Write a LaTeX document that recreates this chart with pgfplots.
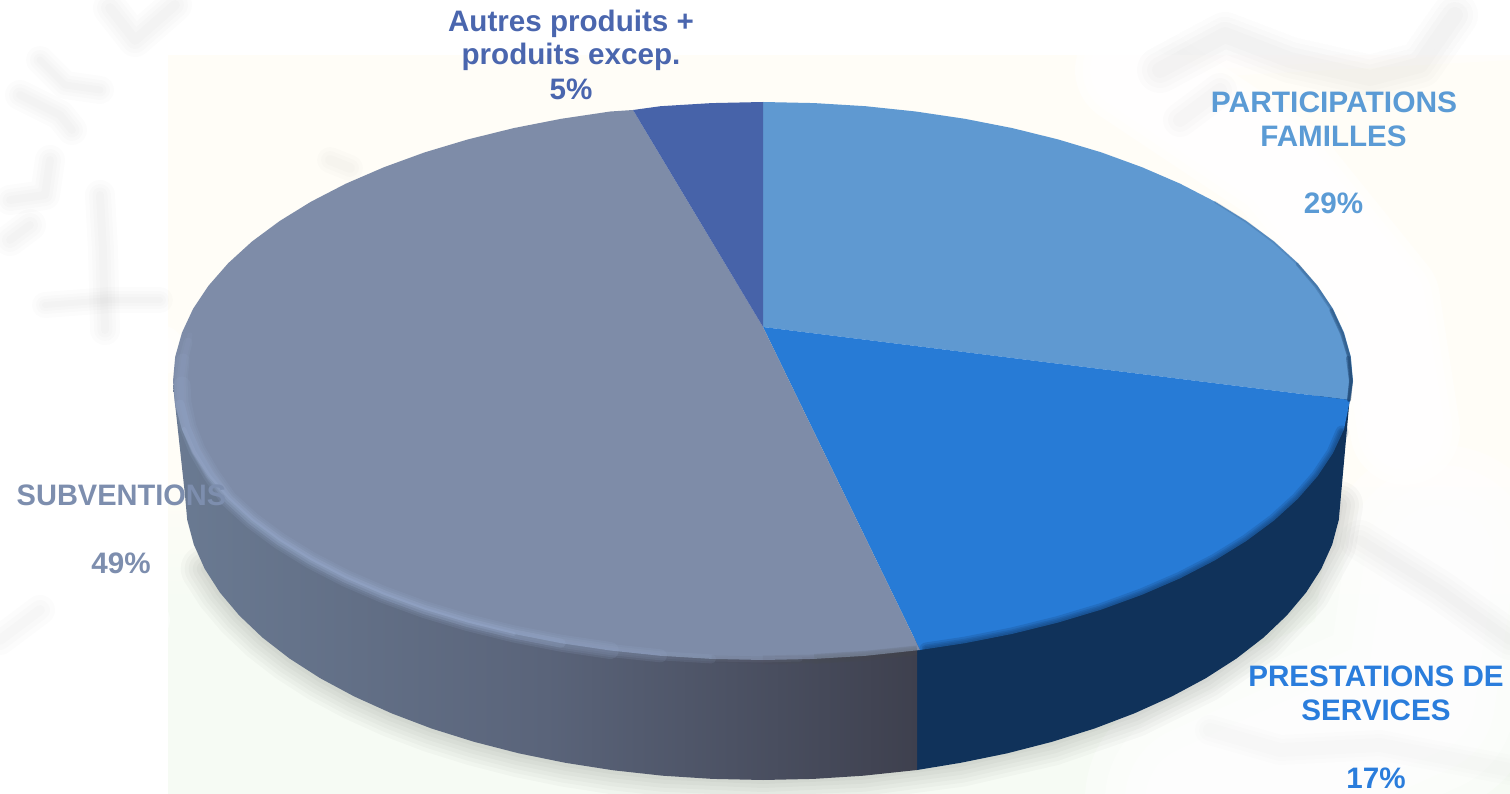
\documentclass[border=0pt]{standalone}
\usepackage{pgfplots}
\pgfplotsset{compat=1.18}
\usepackage{graphicx}
\usepackage{fontspec}
\setmainfont{Liberation Sans}
\definecolor{cA}{HTML}{5F99D1}
\definecolor{cB}{HTML}{277BD6}
\definecolor{cC}{HTML}{7E8CA8}
\definecolor{cD}{HTML}{4763A9}
\definecolor{tA}{HTML}{5B9BD5}
\definecolor{tB}{HTML}{2A7DDC}
\definecolor{tC}{HTML}{7D8EAE}
\definecolor{tD}{HTML}{4A66AE}
\definecolor{wB}{HTML}{10325A}
\definecolor{wL}{HTML}{6A7A92}
\definecolor{wM}{HTML}{5A647A}
\definecolor{wR}{HTML}{3E404E}
\definecolor{rim}{HTML}{9AADCF}
\definecolor{cream}{HTML}{FFFDF7}
\definecolor{pale}{HTML}{F6FBF4}
\tikzset{lab/.style={anchor=base,inner sep=0pt,font=\bfseries\fontsize{29.6}{33}\selectfont}}
% a soft stroke: the same polyline at several widths, each very faint
\newcommand{\soft}[4]{\pgfplotsinvokeforeach{#4}{\addplot[draw=#1,opacity=#2,line width=##1pt,line cap=round,line join=round] coordinates {#3};}}
\begin{document}
\begin{tikzpicture}
\begin{axis}[
  scale only axis,width=1510pt,height=794pt,
  xmin=0,xmax=1510,ymin=0,ymax=794,y dir=reverse,
  hide axis,no markers
]
% background
\addplot[fill=cream,draw=none] coordinates {(168,55)(1510,55)(1510,480)(168,480)} --cycle;
\addplot[draw=none,top color=cream,bottom color=pale] coordinates {(168,480)(1510,480)(1510,600)(168,600)} --cycle;
\addplot[fill=pale,draw=none] coordinates {(168,600)(1510,600)(1510,794)(168,794)} --cycle;
% white halo and lighter lower right
\soft{white}{.5}{(1130,70)(1280,170)(1385,300)(1405,430)}{110,95,80,65}
\soft{white}{.4}{(1150,45)(1510,25)}{70,55,40}
\soft{white}{.4}{(1440,560)(1420,700)(1200,800)}{230,190,150,110}
\soft{white}{.5}{(120,350)(160,350)}{50,30}
\soft{white}{.5}{(120,620)(150,620)}{40,20}
% faint watermark strokes
\soft{black}{.011}{(110,8)(135,40)(175,5)}{34,26,18,10}
\soft{black}{.011}{(20,95)(60,115)(72,130)}{30,22,15,8}
\soft{black}{.011}{(40,60)(65,85)(100,90)}{28,20,13,7}
\soft{black}{.011}{(50,160)(45,195)(10,200)}{30,22,15,8}
\soft{black}{.011}{(100,195)(103,250)(105,330)}{30,22,15,8}
\soft{black}{.011}{(10,240)(30,225)}{32,24,16,8}
\soft{black}{.011}{(45,305)(110,300)(160,300)}{26,18,12,6}
\soft{black}{.011}{(330,160)(350,168)}{26,18,10}
\soft{black}{.011}{(1160,70)(1225,35)(1290,60)(1370,78)(1420,65)(1455,15)}{46,36,26,16}
\soft{black}{.011}{(1180,120)(1220,90)}{34,24,14}
\soft{black}{.011}{(1360,540)(1440,590)(1510,640)}{40,30,20,10}
\soft{black}{.009}{(1210,730)(1280,750)(1380,745)(1510,770)}{30,22,14}
\soft{black}{.011}{(0,640)(40,610)}{30,20,10}
% soft shadow under the wall
\soft{black}{.022}{(204.7,568.8)(219.9,592.5)(239.2,615.4)(262.4,637.5)(289.5,658.5)(320.2,678.2)(354.3,696.5)(391.5,713.3)(431.5,728.5)(474,741.8)(518.7,753.3)(565.3,762.8)(613.4,770.3)(662.6,775.7)(763,780)(863.4,775.7)(960.7,762.8)(1052,741.8)(1134.5,713.3)(1205.8,678.2)(1263.6,637.5)(1306.1,592.5)(1332.2,544.5)(1339,505)}{48,40,32,24,16,8}
% walls
\addplot[fill=wB,draw=none] coordinates {(1350,395)(1341,495)(1338.8,519.8)(1332.2,544.5)(1321.3,568.8)(1306.1,592.5)(1286.8,615.4)(1263.6,637.5)(1236.5,658.5)(1205.8,678.2)(1171.7,696.5)(1134.5,713.3)(1094.5,728.5)(1052,741.8)(1007.3,753.3)(960.7,762.8)(917,770)(917,640)(1100,400)} --cycle;
\addplot[draw=none,left color=wL,right color=wR,middle color=wM] coordinates {(917,770)(863.4,775.7)(813.4,778.9)(763,780)(712.6,778.9)(662.6,775.7)(613.4,770.3)(565.3,762.8)(518.7,753.3)(474,741.8)(431.5,728.5)(391.5,713.3)(354.3,696.5)(320.2,678.2)(289.5,658.5)(262.4,637.5)(239.2,615.4)(219.9,592.5)(204.7,568.8)(193.8,544.5)(187.2,519.8)(185,495)(173,385)(500,400)(917,640)} --cycle;
% top faces
\addplot[fill=cA,draw=none] coordinates {(763,327)(763,102)(814.4,103.1)(865.5,106.2)(915.7,111.5)(964.8,118.8)(1012.3,128.1)(1058,139.4)(1101.4,152.4)(1142.2,167.3)(1180.2,183.7)(1215,201.7)(1246.3,221)(1274,241.5)(1297.7,263.1)(1317.4,285.6)(1332.9,308.8)(1344,332.6)(1350.8,356.7)(1353,381)(1350,400)} --cycle;
\addplot[fill=cB,draw=none] coordinates {(763,327)(1350,400)(1344,429.4)(1332.9,453.2)(1317.4,476.4)(1297.7,498.9)(1274,520.5)(1246.3,541)(1215,560.3)(1180.2,578.3)(1142.2,594.7)(1101.4,609.6)(1058,622.6)(1012.3,633.9)(964.8,643.2)(920,650)} --cycle;
\addplot[fill=cC,draw=none] coordinates {(763,327)(920,650)(865.5,655.8)(814.4,658.9)(763,660)(711.6,658.9)(660.5,655.8)(610.3,650.5)(561.2,643.2)(513.7,633.9)(468,622.6)(424.6,609.6)(383.8,594.7)(345.8,578.3)(311,560.3)(279.7,541)(252,520.5)(228.3,498.9)(208.6,476.4)(193.1,453.2)(182,429.4)(175.2,405.3)(173,381)(175.2,356.7)(182,332.6)(193.1,308.8)(208.6,285.6)(228.3,263.1)(252,241.5)(279.7,221)(311,201.7)(345.8,183.7)(383.8,167.3)(424.6,152.4)(468,139.4)(513.7,128.1)(561.2,118.8)(610.3,111.5)(633,110)} --cycle;
\addplot[fill=cD,draw=none] coordinates {(763,327)(633,110)(660.5,106.2)(711.6,103.1)(763,102)} --cycle;
% rim: blue part, soft edge
\soft{wB}{.17}{(1342,432)(1332.9,453.2)(1317.4,476.4)(1297.7,498.9)(1274,520.5)(1246.3,541)(1215,560.3)(1180.2,578.3)(1142.2,594.7)(1101.4,609.6)(1058,622.6)(1012.3,633.9)(964.8,643.2)(926,649)}{13,9,6,3}
% rim: grey part, dark near the corner (staggered ends fade it out)
\addplot[draw=black!70,opacity=.1,line width=10pt,line join=round] coordinates {(917,650.4)(865.5,655.8)(814.4,658.9)};
\addplot[draw=black!70,opacity=.08,line width=9pt,line join=round] coordinates {(917,650.4)(865.5,655.8)(814.4,658.9)(763,660)};
\addplot[draw=black!70,opacity=.07,line width=7pt,line join=round] coordinates {(917,650.4)(865.5,655.8)(814.4,658.9)(763,660)(711.6,658.9)};
\addplot[draw=black!70,opacity=.06,line width=4pt,line join=round] coordinates {(917,650.4)(865.5,655.8)(814.4,658.9)(763,660)(711.6,658.9)(660.5,655.8)};
% rim: grey part, highlight (staggered ends fade it out)
\addplot[draw=rim,opacity=.09,line width=5pt,line cap=round,line join=round] coordinates {(800,659)(763,660)(711.6,658.9)(660.5,655.8)(610.3,650.5)(561.2,643.2)(513.7,633.9)(468,622.6)(424.6,609.6)(383.8,594.7)(345.8,578.3)(311,560.3)(279.7,541)(252,520.5)(228.3,498.9)(211,474)(197,450)(188,427)(182,403)(181,381)(184,358)(190,335)};
\addplot[draw=rim,opacity=.12,line width=9pt,line cap=round,line join=round] coordinates {(711.6,658.9)(660.5,655.8)(610.3,650.5)(561.2,643.2)(513.7,633.9)(468,622.6)(424.6,609.6)(383.8,594.7)(345.8,578.3)(311,560.3)(279.7,541)(252,520.5)(228.3,498.9)(211,474)(197,450)(188,427)(182,403)(181,381)(184,358)(188,342)};
\addplot[draw=rim,opacity=.13,line width=13pt,line cap=round,line join=round] coordinates {(660.5,655.8)(610.3,650.5)(561.2,643.2)(513.7,633.9)(468,622.6)(424.6,609.6)(383.8,594.7)(345.8,578.3)(311,560.3)(279.7,541)(252,520.5)(228.3,498.9)(211,474)(197,450)(188,427)(182,403)(181,381)(183,360)};
\addplot[draw=rim,opacity=.14,line width=17pt,line cap=round,line join=round] coordinates {(610.3,650.5)(561.2,643.2)(513.7,633.9)(468,622.6)(424.6,609.6)(383.8,594.7)(345.8,578.3)(311,560.3)(279.7,541)(252,520.5)(228.3,498.9)(211,474)(197,450)(188,427)(183,403)(182,385)};
\addplot[draw=rim,opacity=.2,line width=9pt,line cap=round,line join=round] coordinates {(561.2,643.2)(513.7,633.9)(468,622.6)(424.6,609.6)(383.8,594.7)(345.8,578.3)(311,560.3)(279.7,541)(252,520.5)(228.3,498.9)(210,475)(196,451)(186,428)(180,404)};
\addplot[draw=rim,opacity=.25,line width=4pt,line cap=round,line join=round] coordinates {(513.7,633.9)(468,622.6)(424.6,609.6)(383.8,594.7)(345.8,578.3)(311,560.3)(279.7,541)(252,520.5)(228.3,498.9)(209,476)(194,452)(184,429)};
% dark rim at the right (staggered starts fade it in)
\addplot[draw=wB,opacity=.15,line width=2pt,line join=round,line cap=round] coordinates {(1215,202)(1246,221.5)(1273.5,242)(1297,263.5)(1316.5,286)(1332,309)(1343,333)(1349.5,357)(1351.5,381)(1349,400)};
\addplot[draw=wB,opacity=.2,line width=3pt,line join=round,line cap=round] coordinates {(1297,264)(1316,286.5)(1331.5,309.5)(1342.5,333.5)(1349,357)(1351,381)(1349,400)};
\addplot[draw=wB,opacity=.3,line width=3.5pt,line join=round,line cap=round] coordinates {(1331,310)(1342,334)(1349,357)(1351,381)(1349,400)};
\addplot[draw=wB,opacity=.35,line width=4pt,line join=round,line cap=round] coordinates {(1348,358)(1351,381)(1349,400)};
% labels
\node[lab,text=tD] at (axis cs:571,31.5) {Autres produits +};
\node[lab,text=tD] at (axis cs:571,65) {produits excep.};
\node[lab,text=tD] at (axis cs:571,99.5) {5\%};
\node[lab,text=tA] at (axis cs:1334,112.5) {\scalebox{1.012}[1]{PARTICIPATIONS}};
\node[lab,text=tA] at (axis cs:1333.5,146.5) {FAMILLES};
\node[lab,text=tA] at (axis cs:1333.5,213.5) {29\%};
\node[lab,text=tB] at (axis cs:1376,686.5) {PRESTATIONS DE};
\node[lab,text=tB] at (axis cs:1376,720.5) {SERVICES};
\node[lab,text=tB] at (axis cs:1376,788.5) {17\%};
\node[lab,text=tC] at (axis cs:121.5,505.5) {\scalebox{.98}[1]{SUBVENTIONS}};
\node[lab,text=tC] at (axis cs:121,573.5) {49\%};
\end{axis}
\end{tikzpicture}
\end{document}
